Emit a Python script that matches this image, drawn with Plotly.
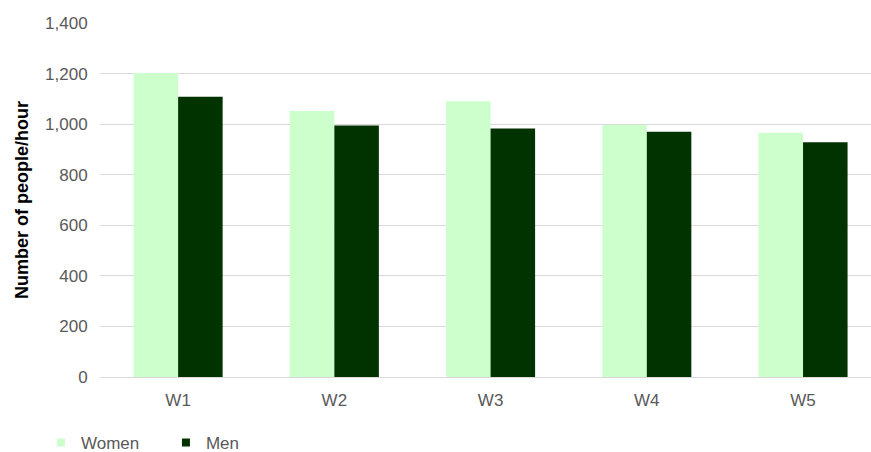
import plotly.graph_objects as go

categories = ["W1", "W2", "W3", "W4", "W5"]
women = [1202, 1052, 1091, 997, 966]
men = [1108, 995, 983, 970, 928]
y_ticks = [0, 200, 400, 600, 800, 1000, 1200, 1400]
y_tick_labels = ["0", "200", "400", "600", "800", "1,000", "1,200", "1,400"]
series_names = ["Women", "Men"]
series_colors = ["#ccffcc", "#003300"]

FONT = "Liberation Sans, Arial, sans-serif"

fig = go.Figure()
for name, vals, col in zip(series_names, [women, men], series_colors):
    fig.add_trace(go.Bar(name=name, x=categories, y=vals, marker_color=col,
                         marker_line_width=0, showlegend=False, legendgroup=name))
# legend entries with small square symbols
for name, col in zip(series_names, series_colors):
    fig.add_trace(go.Scatter(name=name, x=[None], y=[None], mode="markers",
                             marker=dict(symbol="square", size=8, color=col),
                             legendgroup=name, showlegend=True, hoverinfo="skip"))

fig.update_layout(
    width=871, height=452,
    margin=dict(l=100, r=0, t=23, b=75),
    paper_bgcolor="white", plot_bgcolor="white",
    barmode="group", bargap=0.43, bargroupgap=0,
    font=dict(family=FONT, size=17, color="#595959"),
    showlegend=True,
    legend=dict(orientation="h", xref="container", yref="container",
                x=0.047, y=0.02, xanchor="left", yanchor="middle",
                font=dict(size=17, color="#595959"), itemwidth=30,
                entrywidth=80, entrywidthmode="pixels"),
    xaxis=dict(range=[-0.5, 4.435], showgrid=False, showline=True,
               linecolor="#d9d9d9", linewidth=1, ticks="outside", ticklen=8,
               tickcolor="rgba(0,0,0,0)", tickfont=dict(size=17, color="#595959")),
    yaxis=dict(range=[0, 1400], tickvals=y_ticks, ticktext=y_tick_labels,
               showgrid=True, gridcolor="#d9d9d9", gridwidth=1, zeroline=False,
               ticks="outside", ticklen=8, tickcolor="rgba(0,0,0,0)",
               tickfont=dict(size=17, color="#595959"),
               title=dict(text="<b>Number of people/hour</b>",
                          font=dict(size=18, color="black"), standoff=11)),
)

fig.write_html("out.html")
